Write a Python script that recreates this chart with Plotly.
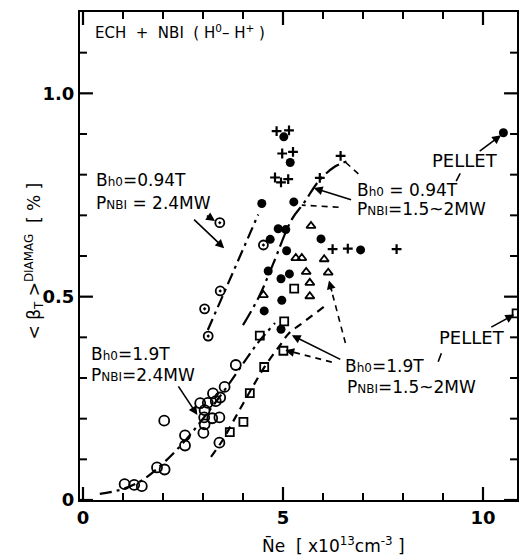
import plotly.graph_objects as go

# ---------------- data ----------------
# B=1.9T, P=2.4MW  (open circles)
circ_x = [1.04, 1.28, 1.47, 1.85, 2.04, 2.55, 2.55, 2.03, 3.01, 3.04, 3.03, 3.23, 3.41,
          3.04, 2.93, 3.12, 3.25, 3.32, 3.43, 3.54, 3.82, 3.41]
circ_y = [0.039, 0.037, 0.034, 0.080, 0.075, 0.134, 0.159, 0.195, 0.165, 0.186, 0.203, 0.201, 0.203,
          0.221, 0.238, 0.239, 0.262, 0.243, 0.252, 0.278, 0.332, 0.141]
# B=1.9T, P=1.5~2MW (open squares)
sq_x = [5.28, 5.03, 4.42, 5.01, 4.53, 4.17, 4.01, 3.67, 10.84]
sq_y = [0.520, 0.439, 0.404, 0.367, 0.327, 0.263, 0.192, 0.167, 0.459]
# B=0.94T, P=2.4MW (dotted circles)
dc_x = [3.42, 3.43, 3.04, 3.13, 4.51]
dc_y = [0.682, 0.514, 0.470, 0.403, 0.627]
# B=0.94T, P=1.5~2MW (filled circles)
fc_x = [5.02, 5.18, 4.47, 5.27, 4.88, 5.07, 4.68, 5.95, 5.09, 6.94, 4.63, 4.95, 5.16,
        4.97, 4.53, 4.95, 10.51]
fc_y = [0.893, 0.830, 0.729, 0.733, 0.667, 0.665, 0.641, 0.642, 0.613, 0.615, 0.563, 0.544, 0.556,
        0.491, 0.465, 0.420, 0.903]
# crosses
cr_x = [4.84, 5.15, 4.98, 5.25, 4.80, 4.95, 5.13, 6.24, 6.62, 7.84, 6.44, 5.92]
cr_y = [0.907, 0.909, 0.852, 0.856, 0.793, 0.781, 0.789, 0.617, 0.618, 0.617, 0.846, 0.792]
# triangles
tr_x = [5.70, 5.32, 5.47, 6.03, 5.58, 6.13, 5.67, 4.51, 5.67]
tr_y = [0.674, 0.595, 0.595, 0.592, 0.561, 0.559, 0.534, 0.504, 0.501]

# trend curves
c1_x = [3.12, 4.38]                                   # 0.94T 2.4MW
c1_y = [0.418, 0.702]
c2_x = [0.42, 1.0, 1.5, 2.0, 2.5, 3.0, 3.5, 4.0, 4.4, 4.8]   # 1.9T 2.4MW
c2_y = [0.015, 0.027, 0.05, 0.09, 0.14, 0.20, 0.265, 0.335, 0.39, 0.435]
c3_x = [4.0, 4.4, 4.73, 5.22, 5.52, 5.9, 6.3, 6.6]    # 0.94T 1.5~2MW
c3_y = [0.43, 0.50, 0.575, 0.69, 0.73, 0.785, 0.82, 0.833]
c4_x = [3.2, 3.49, 3.82, 4.24, 4.57, 4.9, 5.15, 5.47, 6.02]  # 1.9T 1.5~2MW
c4_y = [0.106, 0.147, 0.205, 0.278, 0.332, 0.377, 0.41, 0.434, 0.475]

x_ticks = [0, 5, 10]
x_ticktext = ["0", "5", "10"]
x_minor = list(range(0, 11))
y_ticks = [0, 0.5, 1.0]
y_ticktext = ["0", "0.5", "1.0"]
y_minor = [i / 10 for i in range(0, 12)]

FONT = "DejaVu Sans"
K = "black"
W, H = 525, 558
ML, MR, MT, MB = 80, 6, 12, 58
PW, PH = W - ML - MR, H - MT - MB
XR = [-0.075, 10.85]
YR = [0, 1.2]
XS = (XR[1] - XR[0]) / PW   # data units per pixel
YS = (YR[1] - YR[0]) / PH

fig = go.Figure()

# ---- tick marks (inside, on all four sides) drawn as line traces ----
def add_ticks(major):
    tx, ty = [], []
    L = 13 if major else 7
    for v in x_minor:
        if (v in x_ticks) != major:
            continue
        tx += [v, v, None, v, v, None]
        ty += [YR[0], YR[0] + L * YS, None, YR[1], YR[1] - L * YS, None]
    for v in y_minor:
        ismaj = any(abs(v - t) < 1e-9 for t in y_ticks)
        if ismaj != major:
            continue
        tx += [XR[0], XR[0] + L * XS, None, XR[1], XR[1] - L * XS, None]
        ty += [v, v, None, v, v, None]
    fig.add_trace(go.Scatter(x=tx, y=ty, mode="lines", connectgaps=False,
                             line=dict(color=K, width=2.2 if major else 2),
                             showlegend=False, hoverinfo="skip"))

add_ticks(True)
add_ticks(False)

def line(x, y, dash, w=2.2):
    fig.add_trace(go.Scatter(x=x, y=y, mode="lines", line=dict(color=K, width=w, dash=dash, shape="spline"),
                             showlegend=False, hoverinfo="skip"))

line(c1_x, c1_y, "12px,5px,3px,5px")
line(c2_x, c2_y, "12px,5px,3px,5px")
line(c3_x, c3_y, "16px,5px,3px,5px")
line(c4_x, c4_y, "8px,6px")

def pts(x, y, sym, size, lw=1.5):
    fig.add_trace(go.Scatter(x=x, y=y, mode="markers",
                             marker=dict(symbol=sym, size=size, color=K, line=dict(color=K, width=lw)),
                             showlegend=False, hoverinfo="skip"))

pts(circ_x, circ_y, "circle-open", 10, 1.8)
pts(sq_x, sq_y, "square-open", 8, 1.8)
pts(dc_x, dc_y, "circle-open-dot", 9, 1.8)
pts(fc_x, fc_y, "circle", 9, 0)
pts(cr_x, cr_y, "cross-thin-open", 7, 2.2)
pts(tr_x, tr_y, "triangle-up-open", 8, 1.8)

# pointer lines
def seg(x0, y0, x1, y1, dash="solid", w=1.6):
    fig.add_trace(go.Scatter(x=[x0, x1], y=[y0, y1], mode="lines", line=dict(color=K, width=w, dash=dash),
                             showlegend=False, hoverinfo="skip"))

def arrow(tx, ty, hx, hy):
    fig.add_annotation(x=hx, y=hy, ax=tx, ay=ty, axref="x", ayref="y", xref="x", yref="y",
                       text="", showarrow=True, arrowhead=2, arrowsize=1.1, arrowwidth=1.6, arrowcolor=K)

def head(tx, ty, hx, hy):
    fx = tx + (hx - tx) * 0.8
    fy = ty + (hy - ty) * 0.8
    fig.add_annotation(x=hx, y=hy, ax=fx, ay=fy, axref="x", ayref="y", xref="x", yref="y",
                       text="", showarrow=True, arrowhead=2, arrowsize=1.1, arrowwidth=1.6, arrowcolor=K)

arrow(2.74, 0.693, 3.53, 0.619)
arrow(3.06, 0.702, 3.30, 0.686)
arrow(6.74, 0.737, 5.77, 0.767)
seg(6.39, 0.720, 5.47, 0.725, "6px,5px")
seg(6.57, 0.830, 6.97, 0.794, "6px,5px")
arrow(9.88, 0.855, 10.45, 0.897)
seg(9.43, 0.803, 9.33, 0.784)
arrow(10.17, 0.423, 10.78, 0.456)
seg(8.96, 0.361, 8.88, 0.340)
arrow(6.47, 0.344, 5.22, 0.405)
seg(6.22, 0.339, 5.08, 0.368, "6px,5px")
head(6.22, 0.339, 5.06, 0.368)
seg(6.56, 0.386, 6.16, 0.535, "6px,5px")
head(6.56, 0.386, 6.15, 0.540)
arrow(2.36, 0.283, 2.86, 0.209)

# labels
def label(x, y, txt, size=17):
    fig.add_annotation(x=x, y=y, xref="x", yref="y", text=txt, showarrow=False, xanchor="left",
                       yanchor="middle", font=dict(family=FONT, size=size, color=K))

S = "<span style='font-size:12px'>%s</span>"
label(0.28, 0.786, "B" + S % "h0" + "=0.94T")
label(0.28, 0.730, "P" + S % "NBI" + " = 2.4MW")
label(6.80, 0.762, "B" + S % "h0" + " = 0.94T")
label(6.80, 0.715, "P" + S % "NBI" + "=1.5~2MW")
label(6.50, 0.329, "B" + S % "h0" + "=1.9T")
label(6.55, 0.278, "P" + S % "NBI" + "=1.5~2MW")
label(0.15, 0.359, "B" + S % "h0" + "=1.9T")
label(0.15, 0.307, "P" + S % "NBI" + "=2.4MW")
label(8.68, 0.835, "PELLET", 18)
label(8.85, 0.400, "PELLET", 18)
label(0.25, 1.152, "ECH  +  NBI  ( H<sup>0</sup>– H<sup>+</sup> )", 15)

# axis titles
fig.add_annotation(x=6.27, y=-0.092, xref="x", yref="paper", showarrow=False,
                   text="N\u0304e  [ x10<sup>13</sup>cm<sup>-3</sup> ]",
                   font=dict(family=FONT, size=17, color=K), yanchor="middle")
fig.add_annotation(x=-0.137, y=0.49, xref="paper", yref="paper", showarrow=False, textangle=-90,
                   text="< β<sub>T</sub> ><sup>DIAMAG</sup>  [ % ]",
                   font=dict(family=FONT, size=17, color=K))

axis_common = dict(showline=True, linecolor=K, linewidth=2, mirror=True, ticks="",
                   showgrid=False, zeroline=False,
                   tickfont=dict(family=FONT, size=18, color=K, weight="bold"))
fig.update_xaxes(range=XR, tickmode="array", tickvals=x_ticks, ticktext=x_ticktext, **axis_common)
fig.update_yaxes(range=YR, tickmode="array", tickvals=y_ticks, ticktext=y_ticktext, **axis_common)

fig.update_layout(width=W, height=H, margin=dict(l=ML, r=MR, t=MT, b=MB),
                  plot_bgcolor="white", paper_bgcolor="white", showlegend=False,
                  font=dict(family=FONT, color=K))

fig.write_html("out.html")
